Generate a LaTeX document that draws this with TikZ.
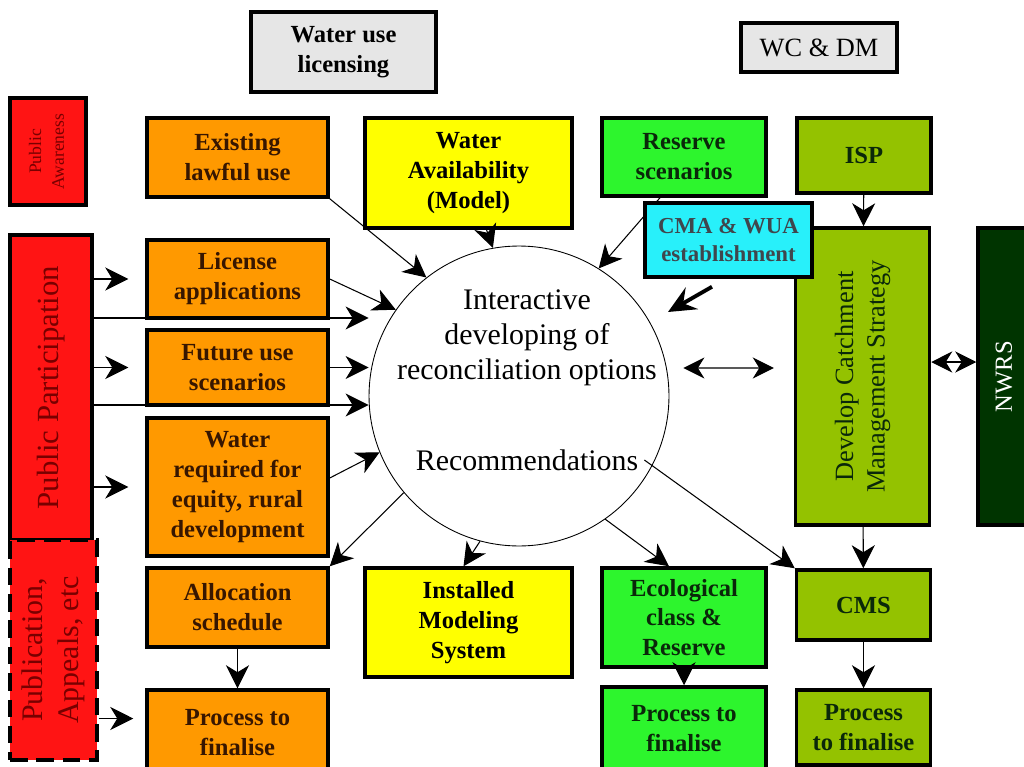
\documentclass[tikz,border=0pt]{standalone}
\usepackage{fontspec}
\setmainfont{Liberation Serif}
\usetikzlibrary{arrows.meta,positioning}
\definecolor{PanelGray}{RGB}{230,230,230}
\definecolor{PanelRed}{RGB}{255,20,20}
\definecolor{PanelOrange}{RGB}{255,153,0}
\definecolor{PanelYellow}{RGB}{255,255,0}
\definecolor{PanelGreen}{RGB}{45,245,45}
\definecolor{PanelOlive}{RGB}{148,194,0}
\definecolor{PanelCyan}{RGB}{40,240,250}
\definecolor{PanelDark}{RGB}{0,52,0}
\definecolor{InkBrown}{RGB}{55,22,0}
\definecolor{InkRed}{RGB}{120,0,0}
\definecolor{InkGreen}{RGB}{10,40,10}
\newcommand{\vtext}[1]{\rotatebox{90}{\begin{tabular}{@{}c@{}}#1\end{tabular}}}

\begin{document}
\begin{tikzpicture}[x=0.02cm,y=-0.02cm,
  box/.style={draw=black,line width=2pt,align=center,inner sep=2pt,
    font=\fontsize{14}{17}\selectfont\bfseries},
  orangebox/.style={box,fill=PanelOrange,text=InkBrown,minimum width=3.62cm},
  greenbox/.style={box,fill=PanelGreen,text=InkGreen,minimum width=3.28cm},
  olivebox/.style={box,fill=PanelOlive,text=InkGreen,minimum width=2.68cm},
  link/.style={-{Stealth[length=0.46cm,width=0.46cm,inset=0.14cm]},line width=0.6pt},
  twoway/.style={{Stealth[length=0.42cm,width=0.42cm,inset=0.13cm]}-{Stealth[length=0.42cm,width=0.42cm,inset=0.13cm]},line width=0.6pt}]
  \useasboundingbox (0,0) rectangle (1024,767);
  \fill[white] (0,0) rectangle (1024,767);

  \node[box,fill=PanelGray,minimum width=3.7cm,minimum height=1.6cm] (wul) at (343.5,52) {Water use\\licensing};
  \node[box,fill=PanelGray,font=\fontsize{15}{18}\selectfont,minimum width=3.12cm,minimum height=0.98cm] (wcdm) at (819,47.5) {WC \& DM};

  \node[box,fill=PanelRed,text=InkRed,font=\fontsize{10}{13}\selectfont,minimum width=1.52cm,minimum height=2.14cm] (pa) at (48,151.5) {\vtext{Public\\Awareness}};
  \node[box,fill=PanelRed,text=InkRed,font=\fontsize{17.5}{20}\selectfont,minimum width=1.64cm,minimum height=6.1cm] (pp) at (51,387.5) {\vtext{Public Participation}};
  \node[box,fill=PanelRed,text=InkRed,font=\fontsize{17}{20}\selectfont,dash pattern=on 10pt off 5pt,minimum width=1.74cm,minimum height=4.4cm] (pub) at (53.5,650) {\vtext{Publication,\\Appeals, etc}};

  \node[orangebox,minimum height=1.58cm] (elu) at (237.5,157.5) {Existing\\lawful use};
  \node[orangebox,minimum height=1.56cm] (la) at (237.5,279) {License\\applications};
  \node[orangebox,minimum height=1.5cm] (fus) at (237.5,367.5) {Future use\\scenarios};
  \node[orangebox,minimum height=2.76cm] (wr) at (237.5,487) {Water\\required for\\equity, rural\\development};
  \node[orangebox,minimum height=1.58cm] (as) at (237.5,607.5) {Allocation\\schedule};
  \node[orangebox,minimum height=1.7cm] (ptf1) at (237.5,732.5) {Process to\\finalise};

  \node[box,fill=PanelYellow,minimum width=4.14cm,minimum height=2.2cm] (wa) at (468.5,173) {Water\\Availability\\(Model)};
  \node[box,fill=PanelYellow,minimum width=4.14cm,minimum height=2.18cm] (ims) at (468.5,622.5) {Installed\\Modeling\\System};

  \node[greenbox,minimum height=1.56cm] (rs) at (684,157) {Reserve\\scenarios};
  \node[greenbox,minimum height=1.98cm] (ecr) at (684,617.5) {Ecological\\class \&\\Reserve};
  \node[greenbox,minimum height=1.66cm] (ptf2) at (684,728.5) {Process to\\finalise};

  \node[olivebox,minimum height=1.5cm] (isp) at (864,155.5) {ISP};
  \node[olivebox,font=\fontsize{15}{18}\selectfont,minimum height=5.94cm] (dcms) at (862.5,376.5) {\vtext{Develop Catchment\\Management Strategy}};
  \node[olivebox,minimum height=1.4cm] (cms) at (863.5,605) {CMS};
  \node[olivebox,minimum height=1.5cm] (ptf3) at (863.5,727.5) {Process\\to finalise};
  \node[box,fill=PanelDark,text=white,font=\fontsize{14}{17}\selectfont,minimum width=1.12cm,minimum height=5.94cm] (nwrs) at (1006,376.5) {\vtext{NWRS}};

  \node[draw,circle,line width=0.5pt,minimum size=6cm] (circ) at (519,396) {};
  \node[align=center,font=\fontsize{17}{20}\selectfont] (circtxt) at (527,338) {Interactive\\developing of\\reconciliation options};
  \node[font=\fontsize{17}{20}\selectfont] (rec) at (527,460) {Recommendations};

  \draw[link] ([xshift=-0.48cm]rs.south) -- (circ.58);
  \node[box,fill=PanelCyan,text=black!80!cyan,font=\fontsize{13}{16}\selectfont\bfseries,minimum width=3.34cm,minimum height=1.48cm] (cma) at (728.5,240) {CMA \& WUA\\establishment};
  \coordinate (cmatip) at (668,312);
  \draw[-{Stealth[length=0.55cm,width=0.5cm,inset=0.2cm]},line width=2.2pt] ([xshift=-0.33cm,yshift=-0.16cm]cma.south) -- (cmatip);

  \draw[link] (elu.south east) -- (circ.128);
  \draw[link] ([xshift=0.36cm]wa.south) -- (circ.100);
  \draw[link] (la.east) -- (circ.145);
  \draw[link] (fus.east) -- (fus.east -| circ.west);
  \draw[link] ([yshift=0.18cm]wr.east) -- (circ.202);
  \coordinate (ppa) at ([yshift=1.39cm]pp.east);
  \coordinate (ppb) at ([yshift=-0.35cm]pp.east);
  \draw[link] (ppa) -- (ppa -| circ.west);
  \draw[link] (ppb) -- (ppb -| circ.west);
  \foreach \b in {la,fus,wr}
    \draw[link,shorten >=0.34cm] (\b.west -| pp.east) -- (\b.west);
  \coordinate (pubend) at ([yshift=0.28cm]ptf1.west);
  \draw[link,shorten >=0.24cm] (pubend -| pub.east) -- (pubend);

  \draw[link] (circ.220) -- (as.north east);
  \draw[link] (circ.255) -- ([xshift=-0.1cm]ims.north);
  \draw[link] (circ.305) -- ([xshift=-0.3cm]ecr.north);
  \draw[link] (rec.east) -- (cms.north west);
  \draw[twoway,shorten <=0.28cm,shorten >=0.4cm] ([yshift=0.56cm]circ.east) -- ([yshift=0.17cm]dcms.west);
  \draw[twoway] ([yshift=0.29cm]dcms.east) -- ([yshift=0.29cm]nwrs.west);

  \draw[link] (isp) -- (dcms);
  \draw[link] (dcms) -- (cms);
  \draw[link] (cms) -- (ptf3);
  \draw[link] (as) -- (ptf1);
  \draw[link] (ecr) -- (ptf2);
\end{tikzpicture}
\end{document}
